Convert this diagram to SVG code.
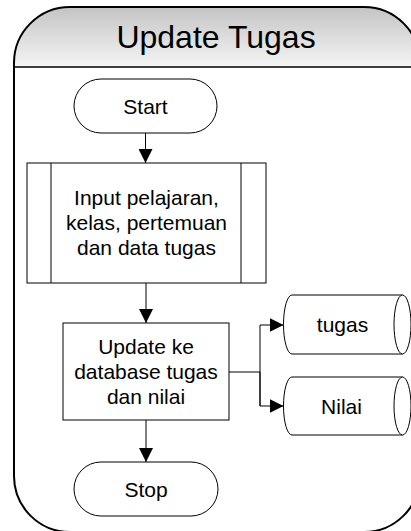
<svg xmlns="http://www.w3.org/2000/svg" width="411" height="531" viewBox="0 0 411 531">
<style>
.node{fill:#fff;stroke:#000;stroke-width:1}
.lbl{font-family:"Liberation Sans",Arial,sans-serif;font-size:21px;fill:#000;text-anchor:middle}
.title{font-family:"Liberation Sans",Arial,sans-serif;font-size:32px;fill:#000;text-anchor:middle}
.conn{fill:none;stroke:#000;stroke-width:1}
</style>
<defs>
<linearGradient id="hdr" x1="0" y1="0" x2="0" y2="1">
<stop offset="0" stop-color="#c4c4c4"/>
<stop offset="1" stop-color="#f5f5f5"/>
</linearGradient>
<marker id="arr" markerUnits="userSpaceOnUse" markerWidth="14" markerHeight="14" viewBox="0 0 14 14" refX="14" refY="7" orient="auto">
<path d="M0,0 L14,7 L0,14 Z" fill="#000"/>
</marker>
</defs>
<g id="frame">
<path d="M14,67 L14,63 A56,56 0 0 1 70,7 L364,7 A56,56 0 0 1 420,63 L420,67 Z" fill="url(#hdr)"/>
<path d="M14,63 A56,56 0 0 1 70,7 L364,7 A56,56 0 0 1 420,63 L420,476 A56,56 0 0 1 364,532 L70,532 A56,56 0 0 1 14,476 Z" fill="none" stroke="#000" stroke-width="2"/>
<line x1="14" y1="67" x2="420" y2="67" stroke="#000" stroke-width="1.6"/>
<text class="title" x="216" y="47.5">Update Tugas</text>
</g>
<g id="connectors">
<line class="conn" x1="145.5" y1="133" x2="145.5" y2="163" marker-end="url(#arr)"/>
<line class="conn" x1="146" y1="283" x2="146" y2="323" marker-end="url(#arr)"/>
<line class="conn" x1="146" y1="420" x2="146" y2="462" marker-end="url(#arr)"/>
<polyline class="conn" points="229,372 260,372"/>
<polyline class="conn" points="260,406 260,325 283.5,325" marker-end="url(#arr)"/>
<polyline class="conn" points="260,372 260,406 283.5,406" marker-end="url(#arr)"/>
</g>
<g id="start">
<rect class="node" x="74" y="79" width="143" height="54" rx="27" ry="27"/>
<text class="lbl" x="145.5" y="113.5">Start</text>
</g>
<g id="input">
<rect class="node" x="27" y="163" width="239" height="120"/>
<line class="node" x1="51" y1="163" x2="51" y2="283"/>
<line class="node" x1="241" y1="163" x2="241" y2="283"/>
<text class="lbl" x="146.5" y="205">Input pelajaran,</text>
<text class="lbl" x="146.5" y="230">kelas, pertemuan</text>
<text class="lbl" x="146.5" y="255">dan data tugas</text>
</g>
<g id="update">
<rect class="node" x="63" y="323" width="166" height="97"/>
<text class="lbl" x="146" y="354">Update ke</text>
<text class="lbl" x="146" y="379">database tugas</text>
<text class="lbl" x="146" y="404">dan nilai</text>
</g>
<g id="tugas">
<path class="node" d="M292,295 L402.5,295 A8.5,29.5 0 0 1 402.5,354 L292,354 A8.5,29.5 0 0 1 292,295 Z"/>
<path class="node" fill="none" d="M402.5,295 A8.5,29.5 0 0 0 402.5,354"/>
<text class="lbl" x="342.5" y="332">tugas</text>
</g>
<g id="nilai">
<path class="node" d="M292,377 L402.5,377 A8.5,29 0 0 1 402.5,435 L292,435 A8.5,29 0 0 1 292,377 Z"/>
<path class="node" fill="none" d="M402.5,377 A8.5,29 0 0 0 402.5,435"/>
<text class="lbl" x="341.5" y="413.5">Nilai</text>
</g>
<g id="stop">
<rect class="node" x="74" y="462" width="144" height="54" rx="27" ry="27"/>
<text class="lbl" x="146" y="496.5">Stop</text>
</g>
</svg>
